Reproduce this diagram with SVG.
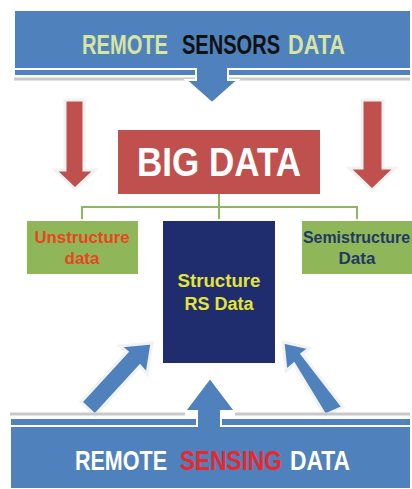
<svg xmlns="http://www.w3.org/2000/svg" width="412" height="489" viewBox="0 0 412 489">
<defs>
<style>
.callout{fill:#4f81bd;stroke:#ffffff;stroke-width:2}
.shadow{fill:none;stroke:#c8c8c8;stroke-width:3}
.red{fill:#c0504d;stroke:#f2f2f2;stroke-width:3}
.blue{fill:#4f81bd;stroke:#f2f2f2;stroke-width:3}
.green{fill:#8fb659}
.conn{fill:none;stroke:#8fb659;stroke-width:2}
text{font-family:"Liberation Sans",Arial,sans-serif;font-weight:bold}
.top{font-size:20px}
.bot{font-size:21.5px}
</style>
</defs>
<rect width="412" height="489" fill="#ffffff"/>

<g id="remote-sensors">
<path class="shadow" d="M14,79 H196 M228,79 H410"/>
<path class="callout" d="M14,10 H411 V76 H228 V80 H238 L212,103 L186,80 H196 V76 H14 Z"/>
<path d="M15,69 H196 V76 M228,76 V69 H410" fill="none" stroke="#ffffff" stroke-width="2"/>
<g transform="translate(0,54) scale(1,1.4)">
<text class="top" x="82" y="0" fill="#d8e4a2" textLength="86" lengthAdjust="spacingAndGlyphs">REMOTE</text>
<text class="top" x="182" y="0" fill="#111111" textLength="98" lengthAdjust="spacingAndGlyphs">SENSORS</text>
<text class="top" x="288" y="0" fill="#d8e4a2" textLength="57" lengthAdjust="spacingAndGlyphs">DATA</text>
</g>
</g>

<g id="arrow-left-down">
<path class="red" d="M65,100 H84 V170 H95 L75,189 L55,170 H65 Z"/>
</g>
<g id="arrow-right-down">
<path class="red" d="M362,100 H383 V168 H395 L372,190 L349,168 H362 Z"/>
</g>

<g id="big-data">
<rect x="118" y="130" width="202" height="64" fill="#c0504d"/>
<text x="219" y="176" font-size="40" fill="#ffffff" text-anchor="middle" textLength="164" lengthAdjust="spacingAndGlyphs">BIG DATA</text>
</g>

<g id="connectors">
<path class="conn" d="M219,194 V219 M82,219 V207 H357 V219"/>
</g>

<g id="unstructure">
<rect class="green" x="27" y="221" width="111" height="53"/>
<text x="82" y="243" font-size="17" fill="#e8461e" text-anchor="middle" textLength="95" lengthAdjust="spacingAndGlyphs">Unstructure</text>
<text x="82" y="264" font-size="17" fill="#e8461e" text-anchor="middle">data</text>
</g>

<g id="semistructure">
<rect class="green" x="302" y="221" width="112" height="53"/>
<text x="303" y="243" font-size="16" fill="#1f3864" textLength="107" lengthAdjust="spacingAndGlyphs">Semistructure</text>
<text x="357" y="264" font-size="17" fill="#1f3864" text-anchor="middle">Data</text>
</g>

<g id="structure">
<rect x="163" y="221" width="112" height="142" fill="#1f2d6e"/>
<text x="219" y="287" font-size="18" fill="#e4e43a" text-anchor="middle" textLength="83" lengthAdjust="spacingAndGlyphs">Structure</text>
<text x="219" y="310" font-size="18" fill="#e4e43a" text-anchor="middle">RS Data</text>
</g>

<g id="arrow-diag-left">
<path class="blue" d="M81,402 L127,352 L120,346 L152,343 L147,374 L140,366 L95,415 Z"/>
</g>
<g id="arrow-diag-right">
<path class="blue" d="M343,407 L302,354 L310,348 L283,342 L286,371 L294,364 L325,415 Z"/>
</g>

<g id="remote-sensing">
<path class="shadow" d="M10,414 H185 M235,414 H410"/>
<path class="callout" d="M10,489 V418 H197 V411 H185 L210,378 L235,411 H221 V418 H411 V489 Z"/>
<path d="M11,426 H197 V418 M221,418 V426 H410" fill="none" stroke="#ffffff" stroke-width="2"/>
<g transform="translate(0,470) scale(1,1.3)">
<text class="bot" x="75" y="0" fill="#ffffff" textLength="92" lengthAdjust="spacingAndGlyphs">REMOTE</text>
<text class="bot" x="180" y="0" fill="#e8282c" textLength="102" lengthAdjust="spacingAndGlyphs">SENSING</text>
<text class="bot" x="290" y="0" fill="#ffffff" textLength="60" lengthAdjust="spacingAndGlyphs">DATA</text>
</g>
</g>
</svg>
